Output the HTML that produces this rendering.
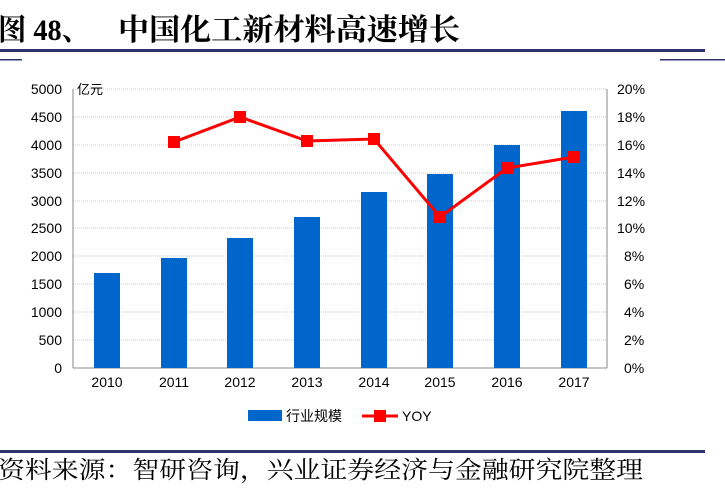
<!DOCTYPE html>
<html><head><meta charset="utf-8"><style>
body{margin:0;background:#fff;width:725px;height:497px;overflow:hidden}
</style></head><body>
<svg width="725" height="497" xmlns="http://www.w3.org/2000/svg" font-family="Liberation Sans, Noto Sans CJK SC, sans-serif">
<text x="-2" y="40" font-family="Liberation Serif, Noto Serif CJK SC, serif" font-size="30" font-weight="bold" fill="#000" textLength="92" lengthAdjust="spacingAndGlyphs">图 48、</text>
<text x="118" y="40" font-family="Liberation Serif, Noto Serif CJK SC, serif" font-size="30" font-weight="bold" fill="#000" textLength="342" lengthAdjust="spacingAndGlyphs">中国化工新材料高速增长</text>
<rect x="0" y="49" width="705" height="3" fill="#2f3470"/>
<rect x="0" y="59" width="22" height="1.5" fill="#2f3470"/>
<rect x="660" y="59" width="65" height="1.5" fill="#2f3470"/>
<g stroke="#c8c8c8" stroke-dasharray="1,1" stroke-width="1">
<line x1="73" y1="89" x2="607" y2="89"/><line x1="73" y1="117" x2="607" y2="117"/><line x1="73" y1="145" x2="607" y2="145"/><line x1="73" y1="173" x2="607" y2="173"/><line x1="73" y1="201" x2="607" y2="201"/><line x1="73" y1="228" x2="607" y2="228"/><line x1="73" y1="256" x2="607" y2="256"/><line x1="73" y1="284" x2="607" y2="284"/><line x1="73" y1="312" x2="607" y2="312"/><line x1="73" y1="340" x2="607" y2="340"/>
</g>
<g stroke="#888" stroke-width="1" fill="none">
<line x1="73" y1="89" x2="73" y2="368"/><line x1="607" y1="89" x2="607" y2="368"/><line x1="73" y1="368" x2="607" y2="368"/>
</g>
<g fill="#0066cc">
<rect x="94" y="273" width="26" height="95"/><rect x="161" y="258" width="26" height="110"/><rect x="227" y="238" width="26" height="130"/><rect x="294" y="217" width="26" height="151"/><rect x="361" y="192" width="26" height="176"/><rect x="427" y="174" width="26" height="194"/><rect x="494" y="145" width="26" height="223"/><rect x="561" y="111" width="26" height="257"/>
</g>
<polyline points="174,142 240,117 307,141 374,139 440,217 507,168 574,157" fill="none" stroke="#ff0000" stroke-width="3"/>
<g fill="#ff0000">
<rect x="168" y="136" width="12" height="12"/><rect x="234" y="111" width="12" height="12"/><rect x="301" y="135" width="12" height="12"/><rect x="368" y="133" width="12" height="12"/><rect x="434" y="211" width="12" height="12"/><rect x="501" y="162" width="12" height="12"/><rect x="568" y="151" width="12" height="12"/>
</g>
<g font-size="14" fill="#000" text-anchor="end">
<text x="62" y="94">5000</text><text x="62" y="122">4500</text><text x="62" y="150">4000</text><text x="62" y="178">3500</text><text x="62" y="206">3000</text><text x="62" y="233">2500</text><text x="62" y="261">2000</text><text x="62" y="289">1500</text><text x="62" y="317">1000</text><text x="62" y="345">500</text><text x="62" y="373">0</text>
</g>
<g font-size="14" fill="#000">
<text x="617" y="94">20%</text><text x="617" y="122">18%</text><text x="617" y="150">16%</text><text x="617" y="178">14%</text><text x="617" y="206">12%</text><text x="617" y="233">10%</text><text x="624" y="261">8%</text><text x="624" y="289">6%</text><text x="624" y="317">4%</text><text x="624" y="345">2%</text><text x="624" y="373">0%</text>
</g>
<text x="77" y="94" font-size="13" fill="#000">亿元</text>
<g font-size="14" fill="#000" text-anchor="middle">
<text x="107" y="387">2010</text><text x="174" y="387">2011</text><text x="240" y="387">2012</text><text x="307" y="387">2013</text><text x="374" y="387">2014</text><text x="440" y="387">2015</text><text x="507" y="387">2016</text><text x="574" y="387">2017</text>
</g>
<rect x="248" y="410" width="34" height="11" fill="#0066cc"/>
<text x="286" y="421" font-size="14">行业规模</text>
<line x1="362" y1="416" x2="398" y2="416" stroke="#ff0000" stroke-width="3"/>
<rect x="374" y="410" width="12" height="12" fill="#ff0000"/>
<text x="402" y="421" font-size="14">YOY</text>
<rect x="0" y="450" width="705" height="3" fill="#2f3470"/>
<text x="-2" y="478" font-family="Liberation Serif, Noto Serif CJK SC, serif" font-size="24" fill="#000" textLength="645" lengthAdjust="spacingAndGlyphs">资料来源：智研咨询，兴业证券经济与金融研究院整理</text>
</svg>
</body></html>
